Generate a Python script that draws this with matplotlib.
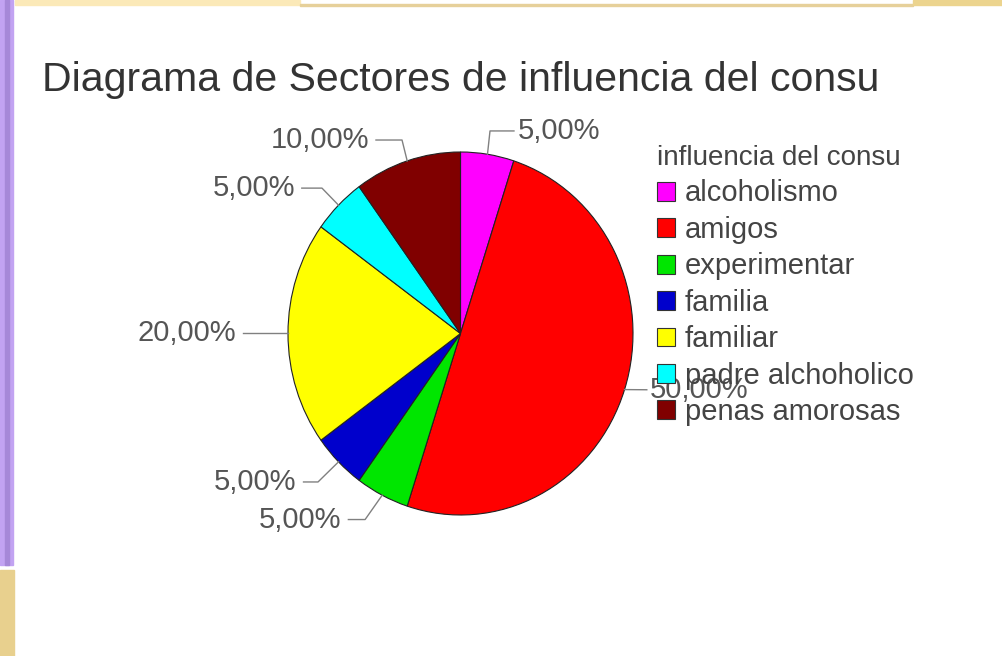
import numpy as np
import matplotlib.pyplot as plt
from matplotlib.patches import Rectangle

plt.rcParams['font.family'] = ['Liberation Sans', 'DejaVu Sans']

categories = ['alcoholismo', 'amigos', 'experimentar', 'familia',
              'familiar', 'padre alchoholico', 'penas amorosas']
values = [5, 50, 5, 5, 20, 5, 10]
colors = ['#ff00ff', '#ff0000', '#00e600', '#0000cc',
          '#ffff00', '#00ffff', '#800000']
title = 'Diagrama de Sectores de influencia del consu'
legend_title = 'influencia del consu'

# label layout: (elbow x, elbow y, text x, text y, ha) in axes data units
label_layout = [
    (0.171, 1.116, 0.33, 1.116, 'left'),
    (1.08, -0.31, 1.10, -0.31, 'left'),
    (-0.553, -1.025, -0.69, -1.025, 'right'),
    (-0.826, -0.818, -0.95, -0.818, 'right'),
    (-1.0, 0.003, -1.30, 0.003, 'right'),
    (-0.803, 0.801, -0.96, 0.801, 'right'),
    (-0.339, 1.066, -0.53, 1.066, 'right'),
]

fig = plt.figure(figsize=(10.03, 6.56), dpi=100)

# slide decorations around the chart
W, H = 1003, 656
def px_rect(x0, y0, x1, y1, color):
    fig.patches.append(Rectangle((x0 / W, 1 - y1 / H), (x1 - x0) / W, (y1 - y0) / H,
                                 transform=fig.transFigure, color=color, zorder=0))
px_rect(0, 0, 13, 565, '#c2a3f2')
px_rect(5, 0, 9, 565, '#a688d8')
px_rect(0, 570, 14, 656, '#e8d08e')
px_rect(15, 0, 300, 5, '#fbe9b8')
px_rect(300, 4, 913, 6, '#e6d09a')
px_rect(913, 0, 1003, 5, '#ecd48e')

fig.text(42 / W, 1 - 80 / H, title, fontsize=29.5, color='#333333', va='center', ha='left')

ax = fig.add_axes([184.5 / W, 32.1 / H, 552 / W, 580.8 / H])
wedges, _ = ax.pie(values, colors=colors, startangle=90, counterclock=False,
                   radius=1, wedgeprops=dict(edgecolor='#222222', linewidth=0.8))
ax.set_aspect('auto')
ax.set_xlim(-1.6, 1.6)
ax.set_ylim(-1.6, 1.6)
ax.axis('off')

for w, v, (ex, ey, tx, ty, ha) in zip(wedges, values, label_layout):
    mid = np.deg2rad((w.theta1 + w.theta2) / 2)
    sx, sy = np.cos(mid), np.sin(mid)
    if ha == 'right':
        end = tx + 0.04
    else:
        end = tx - 0.02
    ax.plot([sx, ex, end], [sy, ey, ty], color='#808080', lw=1, zorder=1, clip_on=False)
    lbl = f'{v:.2f}%'.replace('.', ',')
    ax.text(tx, ty, lbl, ha=ha, va='center', fontsize=21, color='#555555')

leg = fig.legend(wedges, categories, title=legend_title, loc='upper left',
                 bbox_to_anchor=(657 / W, 1 - 145 / H), frameon=False,
                 fontsize=21, title_fontsize=20, borderpad=0, borderaxespad=0,
                 handlelength=0.62, handleheight=0.62, handletextpad=0.33,
                 labelspacing=0.29, alignment='left')
for t in leg.get_texts():
    t.set_color('#444444')
leg.get_title().set_color('#444444')
for h in leg.legend_handles:
    h.set_edgecolor('#333333')

fig.savefig('out.png', dpi=100)
